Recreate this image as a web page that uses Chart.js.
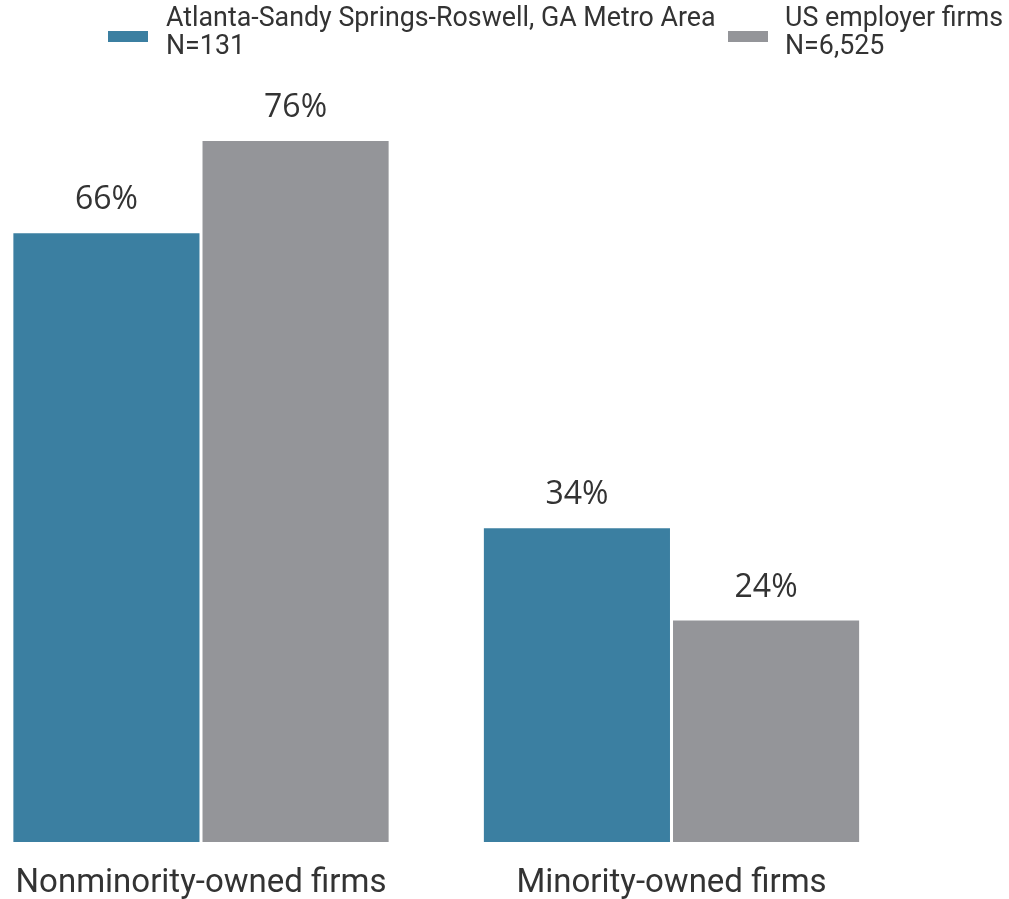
<!DOCTYPE html>
<html lang="en">
<head>
    <meta charset="UTF-8">
    <title>Firm ownership by race</title>
    <script src="https://cdn.jsdelivr.net/npm/chart.js@4.4.1/dist/chart.umd.min.js"></script>
    <style>
        body { margin: 0; background: #fff; }
        #wrap { width: 1009px; height: 899px; }
    </style>
</head>
<body>
    <div id="wrap"><canvas id="chart" width="1009" height="899"></canvas></div>

    <script>
        const categories = ['Nonminority-owned firms', 'Minority-owned firms'];
        const seriesNames = [
            ['Atlanta-Sandy Springs-Roswell, GA Metro Area', 'N=131'],
            ['US employer firms', 'N=6,525']
        ];
        const atlantaValues = [66, 34];
        const usValues = [76, 24];
        const seriesColors = ['#3b7fa1', '#949599'];

        const textColor = '#333333';
        const fontFamily = 'Roboto, "Liberation Sans", sans-serif';

        // legend drawn at the top, two entries, each with a two-line label
        const legendPlugin = {
            id: 'topLegend',
            afterDraw(chart) {
                const ctx = chart.ctx;
                const entries = [
                    { box: 108, text: 166 },
                    { box: 728, text: 785 }
                ];
                ctx.save();
                ctx.font = '26.8px ' + fontFamily;
                ctx.textBaseline = 'middle';
                ctx.textAlign = 'left';
                entries.forEach((e, i) => {
                    ctx.fillStyle = seriesColors[i];
                    ctx.fillRect(e.box, 31, 40, 11);
                    ctx.fillStyle = textColor;
                    seriesNames[i].forEach((line, j) => {
                        ctx.fillText(line, e.text, 19 + j * 28);
                    });
                });
                ctx.restore();
            }
        };

        // percentage labels above each bar
        const valueLabels = {
            id: 'valueLabels',
            afterDatasetsDraw(chart) {
                const ctx = chart.ctx;
                ctx.save();
                ctx.font = '32px "Open Sans", ' + fontFamily;
                ctx.fillStyle = textColor;
                ctx.textAlign = 'center';
                ctx.textBaseline = 'middle';
                chart.data.datasets.forEach((ds, di) => {
                    chart.getDatasetMeta(di).data.forEach((bar, i) => {
                        ctx.fillText(ds.data[i] + '%', bar.x, bar.y - 33);
                    });
                });
                ctx.restore();
            }
        };

        new Chart(document.getElementById('chart'), {
            type: 'bar',
            data: {
                labels: categories,
                datasets: [
                    { label: seriesNames[0].join(' '), data: atlantaValues, backgroundColor: seriesColors[0] },
                    { label: seriesNames[1].join(' '), data: usValues, backgroundColor: seriesColors[1] }
                ]
            },
            options: {
                responsive: false,
                animation: false,
                layout: { padding: { left: 201, right: 337.5, top: 104, bottom: 0 } },
                datasets: {
                    bar: { categoryPercentage: 0.804, barPercentage: 0.984, clip: false }
                },
                plugins: {
                    legend: { display: false },
                    tooltip: { enabled: false }
                },
                scales: {
                    x: {
                        offset: false,
                        grid: { display: false, drawTicks: false },
                        border: { display: false },
                        ticks: {
                            color: textColor,
                            font: { family: fontFamily, size: 33 },
                            padding: 22,
                            maxRotation: 0
                        },
                        afterFit(scale) {
                            scale.height = 57;
                            scale.paddingLeft = 0;
                            scale.paddingRight = 0;
                        }
                    },
                    y: {
                        display: false,
                        min: 0,
                        max: 80
                    }
                }
            },
            plugins: [legendPlugin, valueLabels]
        });
    </script>
</body>
</html>
